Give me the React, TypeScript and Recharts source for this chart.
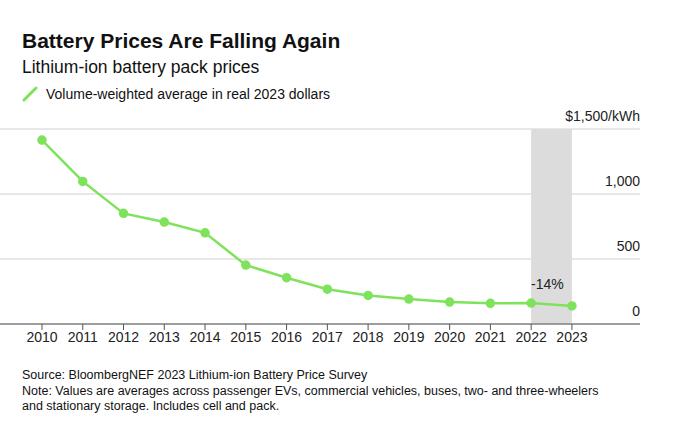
import React from "react";
import { ComposedChart, Line, XAxis, YAxis, CartesianGrid, ReferenceArea, ReferenceDot } from "recharts";

const years = [2010, 2011, 2012, 2013, 2014, 2015, 2016, 2017, 2018, 2019, 2020, 2021, 2022, 2023];
const prices = [1415, 1097, 851, 784, 701, 453, 356, 268, 220, 192, 169, 159, 161, 139];
const yTicks = [0, 500, 1000, 1500];
const yTickLabels = ["0", "500", "1,000", "$1,500/kWh"];

const data = years.map((year, i) => ({ year, price: prices[i] }));
const font = "'Helvetica Neue', Arial, 'Liberation Sans', sans-serif";
const green = "#7ee35b";

const YTick = (props: any) => {
  const i = yTicks.indexOf(props.payload.value);
  return (
    <text x={640} y={props.y - 8} textAnchor="end" fontSize={14} fill="#222" fontFamily={font}>
      {yTickLabels[i]}
    </text>
  );
};

export default function App() {
  return (
    <div style={{ position: "absolute", left: 0, top: 0, width: 680, height: 429, background: "#fff", fontFamily: font, color: "#111" }}>
      <div style={{ position: "absolute", left: 22, top: 29, fontSize: 21, fontWeight: 700 }}>Battery Prices Are Falling Again</div>
      <div style={{ position: "absolute", left: 22, top: 57, fontSize: 17.5 }}>Lithium-ion battery pack prices</div>
      <div style={{ position: "absolute", left: 22, top: 86, fontSize: 14, display: "flex", alignItems: "center" }}>
        <svg width={16} height={16} style={{ marginRight: 8 }}>
          <line x1={2} y1={14} x2={14} y2={2} stroke={green} strokeWidth={3} strokeLinecap="round" />
        </svg>
        Volume-weighted average in real 2023 dollars
      </div>
      <div style={{ position: "absolute", left: 0, top: 100 }}>
        <ComposedChart width={680} height={250} data={data} margin={{ top: 29, right: 39, bottom: 0, left: 0 }}>
          <CartesianGrid vertical={false} stroke="#d0d0d0" horizontalValues={yTicks} />
          <ReferenceArea x1={2022} x2={2023} y1={0} y2={1500} fill="#dcdcdc" fillOpacity={1} stroke="none" />
          <XAxis
            dataKey="year"
            type="number"
            domain={[2008.97, 2024.67]}
            ticks={years}
            axisLine={{ stroke: "#555" }}
            tickLine={{ stroke: "#555" }}
            tickSize={6}
            tick={{ fontSize: 14, fill: "#222", fontFamily: font }}
            height={26}
          />
          <YAxis orientation="right" domain={[0, 1500]} ticks={yTicks} width={1} axisLine={false} tickLine={false} tick={<YTick />} />
          <Line dataKey="price" stroke={green} strokeWidth={2.5} dot={{ r: 3.5, fill: green, stroke: green }} isAnimationActive={false} />
          <ReferenceDot
            x={2022.4}
            y={161}
            r={0}
            fill="none"
            stroke="none"
            label={{ value: "-14%", position: "top", offset: 14, fontSize: 14, fill: "#222", fontFamily: font }}
          />
        </ComposedChart>
      </div>
      <div style={{ position: "absolute", left: 22, top: 368, fontSize: 12.5, lineHeight: "15.5px" }}>
        Source: BloombergNEF 2023 Lithium-ion Battery Price Survey
        <br />
        Note: Values are averages across passenger EVs, commercial vehicles, buses, two- and three-wheelers
        <br />
        and stationary storage. Includes cell and pack.
      </div>
    </div>
  );
}
